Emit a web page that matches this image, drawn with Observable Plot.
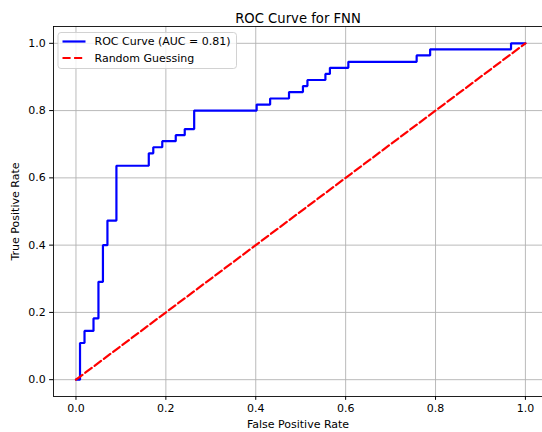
<!DOCTYPE html>
<html>
<head>
<meta charset="utf-8">
<script src="https://cdn.jsdelivr.net/npm/d3@7"></script>
<script src="https://cdn.jsdelivr.net/npm/@observablehq/plot@0.6"></script>
<style>
  html, body { margin: 0; padding: 0; background: #fff; }
</style>
</head>
<body>
<div id="chart"></div>
<script>
const title = "ROC Curve for FNN";
const xLabel = "False Positive Rate";
const yLabel = "True Positive Rate";
const rocLabel = "ROC Curve (AUC = 0.81)";
const randLabel = "Random Guessing";
const ticks = [0, 0.2, 0.4, 0.6, 0.8, 1.0];

const fpr = [0, 0.009, 0.009, 0.019, 0.019, 0.039, 0.039, 0.050, 0.050, 0.060, 0.060, 0.070, 0.070, 0.090, 0.090,
  0.162, 0.162, 0.172, 0.172, 0.192, 0.192, 0.222, 0.222, 0.242, 0.242, 0.263, 0.263, 0.402, 0.402, 0.432, 0.432,
  0.474, 0.474, 0.505, 0.505, 0.515, 0.515, 0.555, 0.555, 0.565, 0.565, 0.606, 0.606, 0.758, 0.758, 0.788, 0.788,
  0.968, 0.968, 1.0];
const tpr = [0, 0, 0.109, 0.109, 0.145, 0.145, 0.182, 0.182, 0.291, 0.291, 0.400, 0.400, 0.473, 0.473, 0.636,
  0.636, 0.673, 0.673, 0.691, 0.691, 0.709, 0.709, 0.727, 0.727, 0.745, 0.745, 0.800, 0.800, 0.818, 0.818, 0.836,
  0.836, 0.855, 0.855, 0.873, 0.873, 0.891, 0.891, 0.909, 0.909, 0.927, 0.927, 0.945, 0.945, 0.964, 0.964, 0.982,
  0.982, 1.0, 1.0];
const diagX = [0, 1];
const diagY = [0, 1];

const roc = fpr.map((f, i) => ({x: f, y: tpr[i]}));
const diag = diagX.map((d, i) => ({x: d, y: diagY[i]}));

const font = "'DejaVu Sans', sans-serif";
const fs = 11;
const dash = "8.1,3.5";

const plot = Plot.plot({
  width: 542,
  height: 432,
  marginLeft: 53,
  marginRight: 0,
  marginTop: 26,
  marginBottom: 36,
  style: {fontFamily: font, fontSize: fs + "px", background: "#fff", color: "#000"},
  x: {domain: [-0.05, 1.038]},
  y: {domain: [-0.05, 1.05]},
  marks: [
    Plot.gridX(ticks, {stroke: "#b0b0b0", strokeOpacity: 1, strokeWidth: 0.88}),
    Plot.gridY(ticks, {stroke: "#b0b0b0", strokeOpacity: 1, strokeWidth: 0.88}),
    Plot.axisX(ticks, {tickSize: 3.85, tickPadding: 3.5, tickFormat: d3.format(".1f"), fontSize: fs,
      label: xLabel, labelAnchor: "center", labelArrow: "none", labelOffset: 31}),
    Plot.axisY(ticks, {tickSize: 3.85, tickPadding: 4, tickFormat: d3.format(".1f"), fontSize: fs,
      label: yLabel, labelAnchor: "center", labelArrow: "none", labelOffset: 42}),
    Plot.ruleX([-0.05], {stroke: "#000", strokeWidth: 0.88}),
    Plot.ruleY([-0.05], {stroke: "#000", strokeWidth: 0.88}),
    Plot.ruleY([1.05], {stroke: "#000", strokeWidth: 0.88}),
    Plot.line(roc, {x: "x", y: "y", stroke: "#0000ff", strokeWidth: 2.2, strokeLinejoin: "miter"}),
    Plot.line(diag, {x: "x", y: "y", stroke: "#ff0000", strokeWidth: 2.2, strokeDasharray: dash}),
    Plot.text([title], {frameAnchor: "top", lineAnchor: "bottom", dy: -4, fontSize: 13.2, fill: "#000"})
  ]
});

// legend
const svg = d3.select(plot);
const lg = svg.append("g").attr("font-family", font).attr("font-size", fs + "px").attr("text-anchor", "start");
lg.append("rect").attr("x", 58).attr("y", 32.5).attr("width", 178.5).attr("height", 36)
  .attr("rx", 3).attr("fill", "#fff").attr("fill-opacity", 0.8).attr("stroke", "#cccccc").attr("stroke-width", 0.88);
const items = [
  {label: rocLabel, color: "#0000ff", dash: null},
  {label: randLabel, color: "#ff0000", dash: dash}
];
items.forEach((it, i) => {
  const cy = 41.5 + i * 16.5;
  const ln = lg.append("line").attr("x1", 62.5).attr("x2", 85.5).attr("y1", cy).attr("y2", cy)
    .attr("stroke", it.color).attr("stroke-width", 2.2);
  if (it.dash) ln.attr("stroke-dasharray", it.dash);
  lg.append("text").attr("x", 94.5).attr("y", cy).attr("dy", "0.35em").attr("fill", "#000")
    .attr("text-anchor", "start").text(it.label);
});

document.getElementById("chart").appendChild(plot);
</script>
</body>
</html>
